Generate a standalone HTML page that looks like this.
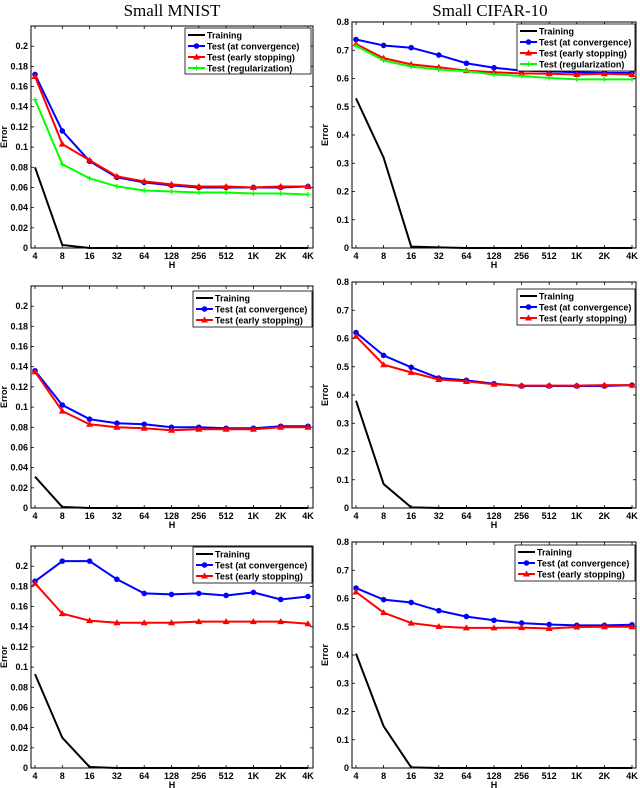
<!DOCTYPE html>
<html><head><meta charset="utf-8"><style>
html,body{margin:0;padding:0;background:#fff;}
svg{display:block;}
text{font-family:"Liberation Sans",Arial,sans-serif;font-weight:bold;font-size:9px;fill:#000;}
.title{font-family:"Liberation Serif",serif;font-weight:normal;font-size:17px;}
</style></head><body>
<svg id="chart" width="640" height="788" viewBox="0 0 640 788" xmlns="http://www.w3.org/2000/svg">
<text class="title" x="172" y="16" text-anchor="middle">Small MNIST</text>
<text class="title" x="490" y="16" text-anchor="middle">Small CIFAR-10</text>
</svg>
<script>
const categories = ["4","8","16","32","64","128","256","512","1K","2K","4K"];
const mnistTicks = ["0","0.02","0.04","0.06","0.08","0.1","0.12","0.14","0.16","0.18","0.2"];
const cifarTicks = ["0","0.1","0.2","0.3","0.4","0.5","0.6","0.7","0.8"];
const tlTrain = [0.08,0.003,0,0,0,0,0,0,0,0,0];
const tlConv = [0.172,0.116,0.086,0.070,0.065,0.062,0.060,0.060,0.060,0.060,0.061];
const tlEarly = [0.170,0.103,0.087,0.071,0.066,0.063,0.061,0.061,0.060,0.061,0.061];
const tlReg = [0.147,0.083,0.069,0.061,0.057,0.056,0.055,0.055,0.054,0.054,0.053];
const trTrain = [0.53,0.32,0.005,0.002,0,0,0,0,0,0,0];
const trConv = [0.738,0.717,0.709,0.683,0.654,0.638,0.628,0.625,0.622,0.620,0.620];
const trEarly = [0.722,0.672,0.650,0.640,0.628,0.622,0.618,0.617,0.614,0.617,0.614];
const trReg = [0.716,0.664,0.642,0.632,0.626,0.614,0.609,0.602,0.597,0.597,0.597];
const mlTrain = [0.031,0.001,0,0,0,0,0,0,0,0,0];
const mlConv = [0.136,0.102,0.088,0.084,0.083,0.080,0.080,0.079,0.079,0.081,0.081];
const mlEarly = [0.135,0.096,0.083,0.080,0.079,0.077,0.078,0.078,0.078,0.080,0.080];
const mrTrain = [0.38,0.085,0.002,0,0,0,0,0,0,0,0];
const mrConv = [0.621,0.540,0.498,0.460,0.452,0.440,0.432,0.432,0.432,0.432,0.435];
const mrEarly = [0.608,0.507,0.480,0.455,0.448,0.438,0.433,0.433,0.433,0.435,0.435];
const blTrain = [0.093,0.030,0.001,0,0,0,0,0,0,0,0];
const blConv = [0.185,0.205,0.205,0.187,0.173,0.172,0.173,0.171,0.174,0.167,0.170];
const blEarly = [0.183,0.153,0.146,0.144,0.144,0.144,0.145,0.145,0.145,0.145,0.143];
const brTrain = [0.405,0.148,0.002,0,0,0,0,0,0,0,0];
const brConv = [0.637,0.596,0.586,0.557,0.536,0.523,0.513,0.508,0.505,0.505,0.507];
const brEarly = [0.623,0.550,0.513,0.501,0.496,0.496,0.497,0.494,0.499,0.500,0.500];

const NS="http://www.w3.org/2000/svg";
const svg=document.getElementById('chart');
function el(tag,attrs,parent,txt){const e=document.createElementNS(NS,tag);for(const k in attrs)e.setAttribute(k,attrs[k]);if(txt!==undefined)e.textContent=txt;(parent||svg).appendChild(e);return e;}

function panel(name,box,ymax,ticks,tickStep,series,legBox){
  const g=el('g',{});
  
  
  const x=i=>box.x0+(box.x1-box.x0)*i/(categories.length-1);
  const y=v=>box.b-(box.b-box.t)*v/ymax;
  const frame=el('rect',{x:box.l,y:box.t,width:box.r-box.l,height:box.b-box.t,fill:'none',stroke:'#000','stroke-width':1},g);
  
  
  categories.forEach((c,i)=>{
    el('line',{x1:x(i),x2:x(i),y1:box.b,y2:box.b-3,stroke:'#000','stroke-width':0.8},g);
    el('line',{x1:x(i),x2:x(i),y1:box.t,y2:box.t+3,stroke:'#000','stroke-width':0.8},g);
    const t=el('text',{x:x(i),y:box.b+11,'text-anchor':'middle'},g,c);
    
    
  });
  ticks.forEach((lab,i)=>{
    const v=i*tickStep;const yy=y(v);
    el('line',{x1:box.l,x2:box.l+3,y1:yy,y2:yy,stroke:'#000','stroke-width':0.8},g);
    el('line',{x1:box.r,x2:box.r-3,y1:yy,y2:yy,stroke:'#000','stroke-width':0.8},g);
    const t=el('text',{x:box.l-3,y:yy+3,'text-anchor':'end'},g,lab);
    
    
  });
  const xt=el('text',{x:(box.l+box.r)/2,y:box.b+20,'text-anchor':'middle'},g,'H');
  
  
  const yl=box.l-(ymax<1?24:21);
  const yt=el('text',{x:yl,y:(box.t+box.b)/2,'text-anchor':'middle',transform:`rotate(-90 ${yl} ${(box.t+box.b)/2})`},g,'Error');
  
  
  series.forEach(s=>{
    const pts=s.data.map((v,i)=>x(i)+','+y(v)).join(' ');
    const pl=el('polyline',{points:pts,fill:'none',stroke:s.color,'stroke-width':2},g);
    
    
    s.data.forEach((v,i)=>marker(g,s,x(i),y(v)));
  });
  // legend
  const lg=el('g',{},g);
  
  
  el('rect',{x:legBox.x,y:legBox.y,width:legBox.w,height:legBox.h,fill:'#fff',stroke:'#000','stroke-width':0.8},lg);
  const step=11;
  series.forEach((s,k)=>{
    const yy=legBox.y+7+k*step;
    const e=el('g',{},lg);
    
    
    el('line',{x1:legBox.x+3,x2:legBox.x+20,y1:yy,y2:yy,stroke:s.color,'stroke-width':2},e);
    marker(e,s,legBox.x+11.5,yy);
    el('text',{x:legBox.x+22,y:yy+3.5},e,s.label);
  });
}
function marker(g,s,cx,cy){
  if(s.m==='o')el('circle',{cx:cx,cy:cy,r:2.8,fill:s.color},g);
  else if(s.m==='^')el('polygon',{points:`${cx},${cy-3.5} ${cx-3.5},${cy+2.5} ${cx+3.5},${cy+2.5}`,fill:s.color},g);
  else if(s.m==='+'){el('line',{x1:cx-2.5,x2:cx+2.5,y1:cy,y2:cy,stroke:s.color,'stroke-width':1.2},g);el('line',{x1:cx,x2:cx,y1:cy-2.5,y2:cy+2.5,stroke:s.color,'stroke-width':1.2},g);}
}
function mk(tr,cv,ea,rg){
  const a=[{name:'training',label:'Training',color:'#000',data:tr,m:''},
    {name:'test-convergence',label:'Test (at convergence)',color:'#0000ff',data:cv,m:'o'},
    {name:'test-early-stopping',label:'Test (early stopping)',color:'#ff0000',data:ea,m:'^'}];
  if(rg)a.push({name:'test-regularization',label:'Test (regularization)',color:'#00ff00',data:rg,m:'+'});
  return a;
}
const L={l:31,r:313,x0:35,x1:308}, R={l:352,r:636,x0:356,x1:632};
panel('panel-mnist-top',{...L,t:26,b:248},0.22,mnistTicks,0.02,mk(tlTrain,tlConv,tlEarly,tlReg),{x:185,y:28,w:126,h:46});
panel('panel-cifar-top',{...R,t:22,b:248},0.8,cifarTicks,0.1,mk(trTrain,trConv,trEarly,trReg),{x:517,y:24,w:118,h:47});
panel('panel-mnist-middle',{...L,t:286,b:508},0.22,mnistTicks,0.02,mk(mlTrain,mlConv,mlEarly),{x:193,y:291,w:119,h:36});
panel('panel-cifar-middle',{...R,t:282,b:508},0.8,cifarTicks,0.1,mk(mrTrain,mrConv,mrEarly),{x:517,y:289,w:118,h:36});
panel('panel-mnist-bottom',{...L,t:546,b:768},0.22,mnistTicks,0.02,mk(blTrain,blConv,blEarly),{x:193,y:547,w:119,h:36});
panel('panel-cifar-bottom',{...R,t:542,b:768},0.8,cifarTicks,0.1,mk(brTrain,brConv,brEarly),{x:515,y:545,w:120,h:36});
</script>
</body></html>
